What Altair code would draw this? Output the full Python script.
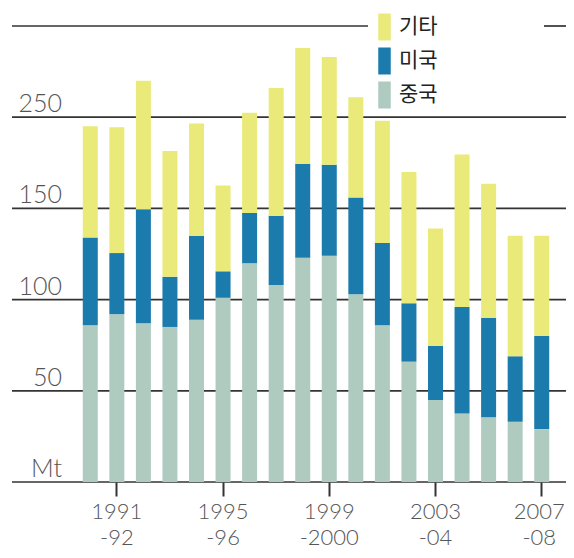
import altair as alt
import pandas as pd

seasons = ["1990-91", "1991-92", "1992-93", "1993-94", "1994-95", "1995-96",
           "1996-97", "1997-98", "1998-99", "1999-2000", "2000-01", "2001-02",
           "2002-03", "2003-04", "2004-05", "2005-06", "2006-07", "2007-08"]
china = [86, 92, 87, 85, 89, 101, 120, 108, 123, 124, 103, 86, 66, 45, 37.5, 35.5, 33, 29]
usa = [48, 33.5, 62.5, 27.5, 46, 14.5, 27.5, 38, 51.5, 50, 53, 45, 32, 29.5, 58.5, 54.5, 36, 51]
other = [61, 69, 70.5, 69, 61.5, 47, 55, 70, 63.5, 59, 55, 67, 72, 64.5, 83.5, 73.5, 66, 55]

series_names = ["기타", "미국", "중국"]
series_colors = ["#EAEA7A", "#1B7BAD", "#AFCBC0"]
stack_rank = {"중국": 0, "미국": 1, "기타": 2}

tick_seasons = ["1991-92", "1995-96", "1999-2000", "2003-04", "2007-08"]
grid_values = [0, 50, 100, 150, 200]
top_grid = [250]
y_label_values = [0, 50, 100, 150, 200]
y_label_texts = ["Mt", "50", "100", "150", "250"]

rows = []
for i, s in enumerate(seasons):
    for name, vals in (("중국", china), ("미국", usa), ("기타", other)):
        rows.append({"season": s, "series": name, "value": vals[i], "rank": stack_rank[name]})
df = pd.DataFrame(rows)

grid_df = pd.DataFrame({"v": grid_values})
top_df = pd.DataFrame({"v": top_grid})
ylab_df = pd.DataFrame({"v": y_label_values, "label": y_label_texts})

yscale = alt.Scale(domain=[0, 259.87], nice=False, zero=True)
LINE = "#333333"

grid = alt.Chart(grid_df).mark_rule(color=LINE, strokeWidth=1.7).encode(
    y=alt.Y("v:Q", scale=yscale, axis=None),
    x=alt.value(-65), x2=alt.value(489),
)
top_left = alt.Chart(top_df).mark_rule(color=LINE, strokeWidth=1.7).encode(
    y=alt.Y("v:Q", scale=yscale, axis=None),
    x=alt.value(-65), x2=alt.value(291),
)
top_right = alt.Chart(top_df).mark_rule(color=LINE, strokeWidth=1.7).encode(
    y=alt.Y("v:Q", scale=yscale, axis=None),
    x=alt.value(467), x2=alt.value(489),
)

bars = alt.Chart(df).mark_bar().encode(
    x=alt.X("season:N", sort=seasons,
            scale=alt.Scale(paddingInner=0.435, paddingOuter=0.2175),
            axis=alt.Axis(values=tick_seasons,
                          labelExpr="[slice(datum.label,0,4), slice(datum.label,4)]",
                          domain=False, grid=False, ticks=True, tickSize=14,
                          tickWidth=2, tickColor=LINE, labelFont="Lato",
                          labelFontWeight=300, labelFontSize=22, labelColor="#555555",
                          labelPadding=5, labelAngle=0, labelLineHeight=26.5,
                          labelOffset={"condition": {"test": "datum.value === '2007-08'",
                                                     "value": -2.5},
                                       "value": 0},
                          labelBaseline="top", labelOverlap=False, labelFlush=False,
                          title=None)),
    y=alt.Y("value:Q", stack="zero", scale=yscale, axis=None),
    color=alt.Color("series:N",
                    scale=alt.Scale(domain=series_names, range=series_colors),
                    legend=alt.Legend(orient="none", legendX=294, legendY=5.5, title=None,
                                      symbolType="M-0.463,-1L0.463,-1L0.463,1L-0.463,1Z",
                                      symbolSize=729, symbolStrokeWidth=0,
                                      labelFont="Noto Sans CJK KR", labelFontSize=21,
                                      labelColor="#222222", labelOffset=1,
                                      rowPadding=7, padding=0)),
    order=alt.Order("rank:Q", sort="ascending"),
)

ylabels = alt.Chart(ylab_df).mark_text(
    align="right", baseline="alphabetic", dy=-5, font="Lato", fontWeight=300,
    fontSize=25, color="#555555"
).encode(
    y=alt.Y("v:Q", scale=yscale, axis=None),
    x=alt.value(-15),
    text="label:N",
)

chart = alt.layer(grid, top_left, top_right, bars, ylabels).properties(
    width=478, height=474,
    autosize=alt.AutoSizeParams(type="none"),
    padding={"left": 69, "top": 0, "right": 11, "bottom": 68},
).configure_view(stroke=None)

chart.save("out.html", embed_options={"renderer": "svg", "actions": False})
